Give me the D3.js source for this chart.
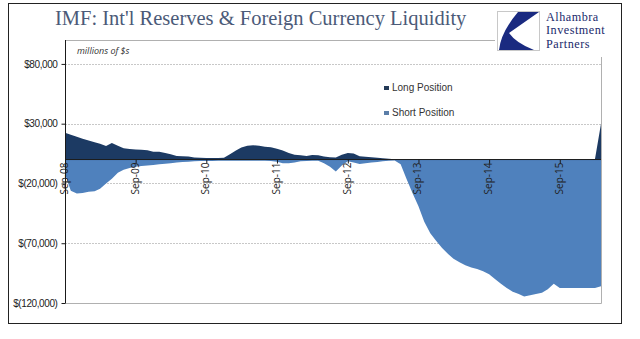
<!DOCTYPE html>
<html>
<head>
<meta charset="utf-8">
<script src="https://cdn.jsdelivr.net/npm/d3@7"></script>
<style>
  body { margin: 0; background: #fff; }
  svg { display: block; }
</style>
</head>
<body>
<div id="chart"></div>
<script>
// monthly values, Sep-08 .. Apr-16 (millions of $)
const longPos = [
  22400, 20800, 19000, 17500, 16000, 14500, 13200, 11300, 13800, 11500, 9500, 8800,
  8500, 8200, 7800, 6500, 6500, 5500, 4500, 3000, 2800, 2500, 1800, 1500,
  1200, 1200, 1300, 1500, 4500, 7500, 10000, 11500, 12000, 11500, 10800, 10200,
  9000, 7500, 5500, 4000, 3500, 3000, 3800, 3500, 2500, 2000, 1800, 4000,
  5500, 5000, 2800, 2300, 2000, 1500, 1000, 700, 300, 0, 0, 0,
  0, 0, 0, 0, 0, 0, 0, 0, 0, 0, 0, 0,
  0, 0, 0, 0, 0, 0, 0, 0, 0, 0, 0, 0,
  0, 0, 0, 0, 0, 0, 500, 30000
];
const shortPos = [
  -12000, -26000, -28500, -28000, -27000, -26500, -24500, -20000, -16000, -11000, -8500, -7000,
  -6000, -5500, -5000, -4500, -4000, -3500, -3000, -2500, -2000, -1800, -1500, -1300,
  -1200, -1200, -1100, -1100, -1000, -1000, -1000, -1000, -1000, -1000, -1000, -1200,
  -1800, -3000, -3200, -2500, -1500, -1200, -1000, -1000, -3000, -6000, -10000, -5000,
  -1500, -2500, -3800, -3000, -2500, -2000, -1500, -1000, -700, -4000, -16000, -28000,
  -39000, -52000, -61700, -68000, -74000, -79000, -83000, -86000, -88500, -90300, -91500, -93500,
  -96000, -100000, -104000, -107500, -110500, -112500, -114500, -113500, -112500, -111500, -108500, -104000,
  -107500, -107500, -107500, -107500, -107500, -107500, -107500, -106000
];
const yTicks = [80000, 30000, -20000, -70000, -120000];
const xTickYears = [2008, 2009, 2010, 2011, 2012, 2013, 2014, 2015];
const legendNames = ["Long Position", "Short Position"];

const months = longPos.map((d, i) => new Date(2008, 8 + i, 1));
const colLong = "#1c3a63", colShort = "#4f81bd";

const svg = d3.select("#chart").append("svg")
  .attr("width", 640).attr("height", 339);

svg.append("rect").attr("width", 640).attr("height", 339).attr("fill", "#fff");

const x = d3.scaleTime()
  .domain([months[0], months[months.length - 1]])
  .range([65, 601]);
const y = d3.scaleLinear().domain([-120000, 100000]).range([303, 40]);

// grid lines
svg.selectAll(".grid").data(yTicks.filter(d => d > -120000))
  .enter().append("line")
  .attr("x1", 65).attr("x2", 601)
  .attr("y1", d => Math.round(y(d)) + 0.5).attr("y2", d => Math.round(y(d)) + 0.5)
  .attr("stroke", "#c8c8c8").attr("stroke-dasharray", "2,1");

// plot frame (top, right, bottom)
svg.append("path")
  .attr("d", "M65,40.5H601.5V303.5H65")
  .attr("fill", "none").attr("stroke", "#b0b0b0");

// areas
const areaOf = vals => d3.area()
  .x((d, i) => x(months[i]))
  .y0(y(0))
  .y1(d => y(d))(vals);

svg.append("path").attr("d", areaOf(shortPos)).attr("fill", colShort);
svg.append("path").attr("d", areaOf(longPos)).attr("fill", colLong);

// zero / category axis
svg.append("line")
  .attr("x1", 65).attr("x2", 601)
  .attr("y1", y(0)).attr("y2", y(0))
  .attr("stroke", "#1a1a1a");

const xAxis = d3.axisBottom(x)
  .tickValues(xTickYears.map(yr => new Date(yr, 8, 1)))
  .tickSize(4)
  .tickFormat(d3.timeFormat("Sep-%y"));
const gx = svg.append("g").attr("transform", `translate(0,${y(0)})`).call(xAxis);
gx.select(".domain").remove();
gx.selectAll("line").attr("stroke", "#1a1a1a");
gx.selectAll("text")
  .attr("transform", "rotate(-90)")
  .attr("text-anchor", "end")
  .attr("x", -3).attr("y", -1).attr("dy", "0.35em")
  .attr("font-family", "'Open Sans', sans-serif")
  .attr("font-size", 10).attr("fill", "#222");

// value axis
const yAxis = d3.axisLeft(y)
  .tickValues(yTicks)
  .tickSize(4)
  .tickFormat(d => d < 0 ? "$(" + d3.format(",")(-d) + ")" : "$" + d3.format(",")(d));
const gy = svg.append("g").attr("transform", "translate(65.5,0)").call(yAxis);
gy.select(".domain").attr("d", "M0,40V303").attr("stroke", "#1a1a1a");
gy.selectAll("line").attr("stroke", "#1a1a1a");
gy.selectAll("text")
  .attr("x", -8)
  .attr("font-family", "'Liberation Sans', Arial, sans-serif")
  .attr("font-size", 10).attr("letter-spacing", "-0.4").attr("fill", "#222");

svg.append("text")
  .attr("x", 77).attr("y", 54)
  .attr("font-family", "'Open Sans', sans-serif")
  .attr("font-style", "italic").attr("font-size", 9).attr("fill", "#333")
  .text("millions of $s");

// legend
const lg = svg.selectAll(".lg").data(legendNames).enter().append("g")
  .attr("transform", (d, i) => `translate(384,${86 + i * 25})`);
lg.append("rect").attr("width", 5).attr("height", 4)
  .attr("fill", (d, i) => i ? "#5b7ea8" : "#243a57");
lg.append("text").attr("x", 8).attr("y", 5)
  .attr("font-family", "'Liberation Sans', Arial, sans-serif")
  .attr("font-size", 10).attr("fill", "#333")
  .text(d => d);

// title
svg.append("text")
  .attr("x", 55).attr("y", 25)
  .attr("font-family", "'Liberation Serif', 'Times New Roman', serif")
  .attr("font-size", 20.5).attr("fill", "#4b5a78")
  .text("IMF: Int'l Reserves & Foreign Currency Liquidity");

// logo block
svg.append("rect").attr("x", 495).attr("y", 4).attr("width", 126).attr("height", 53).attr("fill", "#fff");
svg.append("rect").attr("x", 497.5).attr("y", 11.5).attr("width", 42).attr("height", 39)
  .attr("fill", "#fff").attr("stroke", "#c8c8c8");
svg.append("path")
  .attr("d", "M518,12 L539,12 L509,33 Q516,43 534,50 L499,50 Q501,32 518,12 Z")
  .attr("fill", "#1a2a80");
svg.selectAll(".logo").data(["Alhambra", "Investment", "Partners"]).enter().append("text")
  .attr("x", 546).attr("y", (d, i) => 20.5 + i * 13.5)
  .attr("font-family", "'Liberation Serif', serif")
  .attr("font-size", 12.2).attr("letter-spacing", "0.5").attr("fill", "#1a2a6c")
  .text(d => d);

// outer frame
svg.append("rect").attr("x", 8.5).attr("y", 3.5).attr("width", 613).attr("height", 320)
  .attr("fill", "none").attr("stroke", "#222");
</script>
</body>
</html>
